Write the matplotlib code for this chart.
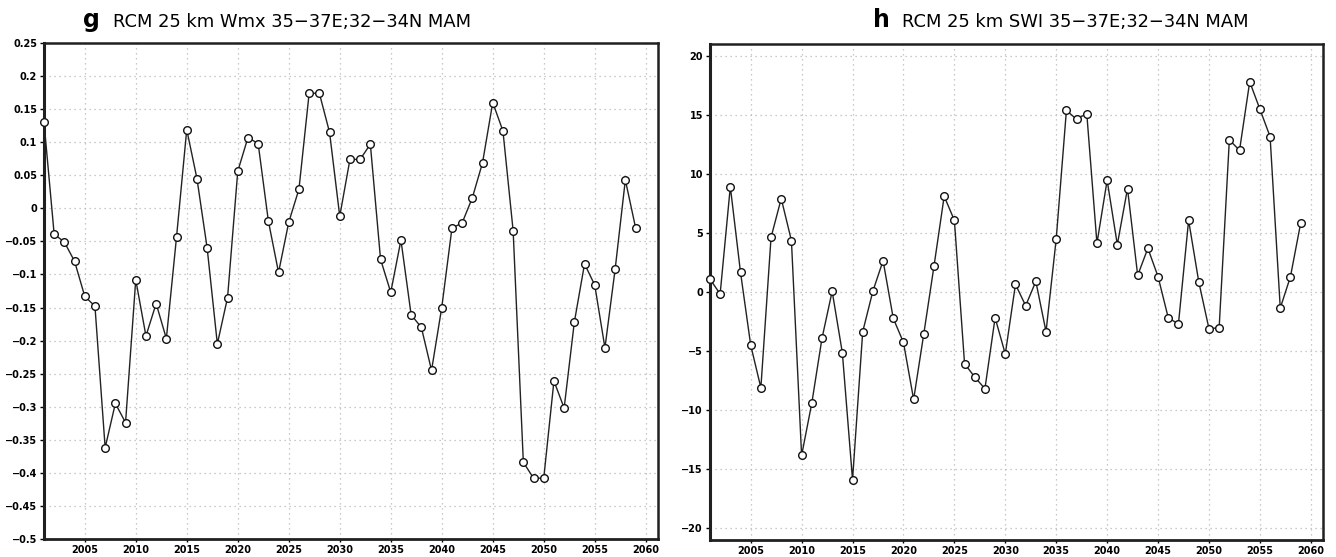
import numpy as np
import matplotlib
matplotlib.use('Agg')
import matplotlib.pyplot as plt

years = np.arange(2001, 2060)

# panel g: Wmx anomaly
wmx = [0.131, -0.039, -0.051, -0.080, -0.133, -0.148, -0.362, -0.295, -0.324, -0.108,
       -0.193, -0.144, -0.197, -0.043, 0.119, 0.045, -0.060, -0.205, -0.135, 0.056,
       0.107, 0.098, -0.019, -0.097, -0.021, 0.029, 0.174, 0.174, 0.115, -0.012,
       0.074, 0.074, 0.097, -0.077, -0.127, -0.048, -0.161, -0.180, -0.245, -0.150,
       -0.030, -0.022, 0.016, 0.069, 0.160, 0.117, -0.034, -0.384, -0.408, -0.408,
       -0.261, -0.302, -0.172, -0.084, -0.116, -0.211, -0.092, 0.043, -0.029]

# panel h: SWI anomaly
swi = [1.10, -0.17, 8.92, 1.67, -4.49, -8.11, 4.63, 7.91, 4.35, -13.84,
       -9.41, -3.93, 0.06, -5.14, -15.9, -3.36, 0.08, 2.65, -2.23, -4.27,
       -9.10, -3.53, 2.20, 8.11, 6.07, -6.07, -7.20, -8.19, -2.18, -5.25,
       0.65, -1.16, 0.90, -3.36, 4.49, 15.37, 14.63, 15.11, 4.12, 9.46,
       4.01, 8.76, 1.41, 3.70, 1.30, -2.18, -2.71, 6.07, 0.85, -3.11,
       -3.02, 12.88, 12.0, 17.8, 15.48, 13.16, -1.36, 1.30, 5.82]

xticks = [2005, 2010, 2015, 2020, 2025, 2030, 2035, 2040, 2045, 2050, 2055, 2060]
g_yticks = [0.25, 0.2, 0.15, 0.1, 0.05, 0, -0.05, -0.1, -0.15, -0.2, -0.25,
            -0.3, -0.35, -0.4, -0.45, -0.5]
h_yticks = [20, 15, 10, 5, 0, -5, -10, -15, -20]

fig = plt.figure(figsize=(13.36, 5.57), dpi=100)
ax1 = fig.add_axes([0.0329, 0.0323, 0.4596, 0.8905])
ax2 = fig.add_axes([0.5314, 0.0305, 0.4589, 0.8905])


def style_axis(ax, yticks, ylim, fmt):
    ax.set_xlim(2001, 2061.2)
    ax.set_ylim(*ylim)
    ax.set_xticks(xticks)
    ax.set_xticklabels([str(t) for t in xticks], fontsize=7, fontweight='bold')
    ax.set_yticks(yticks)
    ax.set_yticklabels([fmt(t).replace('-', '\u2212') for t in yticks],
                       fontsize=7, fontweight='bold')
    ax.grid(True, color='#b8b8b8', linestyle=(0, (1, 3)), linewidth=0.9)
    ax.tick_params(axis='both', direction='out', length=3, width=1, pad=2)
    ax.tick_params(axis='x', length=2)
    for s in ax.spines.values():
        s.set_linewidth(1.8)
        s.set_color('#202020')
    ax.spines['left'].set_linewidth(2.2)
    ax.spines['bottom'].set_linewidth(2.0)


ax1.plot(years, wmx, color='#222222', linewidth=1.0, marker='o', markersize=5.5,
         markerfacecolor='white', markeredgecolor='#111111', markeredgewidth=1.0,
         clip_on=False, zorder=3)
style_axis(ax1, g_yticks, (-0.5, 0.25), lambda v: '0' if v == 0 else ('%g' % v))

ax2.plot(years, swi, color='#222222', linewidth=1.0, marker='o', markersize=5.5,
         markerfacecolor='white', markeredgecolor='#111111', markeredgewidth=1.0,
         clip_on=False, zorder=3)
style_axis(ax2, h_yticks, (-21, 21), lambda v: '%d' % v)

# panel titles
fig.text(0.0625, 0.951, 'g', fontsize=17, fontweight='bold', ha='left', va='baseline')
fig.text(0.0845, 0.951, 'RCM 25 km Wmx 35\u221237E;32\u221234N MAM', fontsize=12.9,
         ha='left', va='baseline')
fig.text(0.6535, 0.951, 'h', fontsize=17, fontweight='bold', ha='left', va='baseline')
fig.text(0.6755, 0.951, 'RCM 25 km SWI 35\u221237E;32\u221234N MAM', fontsize=12.9,
         ha='left', va='baseline')

fig.savefig('out.png', dpi=100)
